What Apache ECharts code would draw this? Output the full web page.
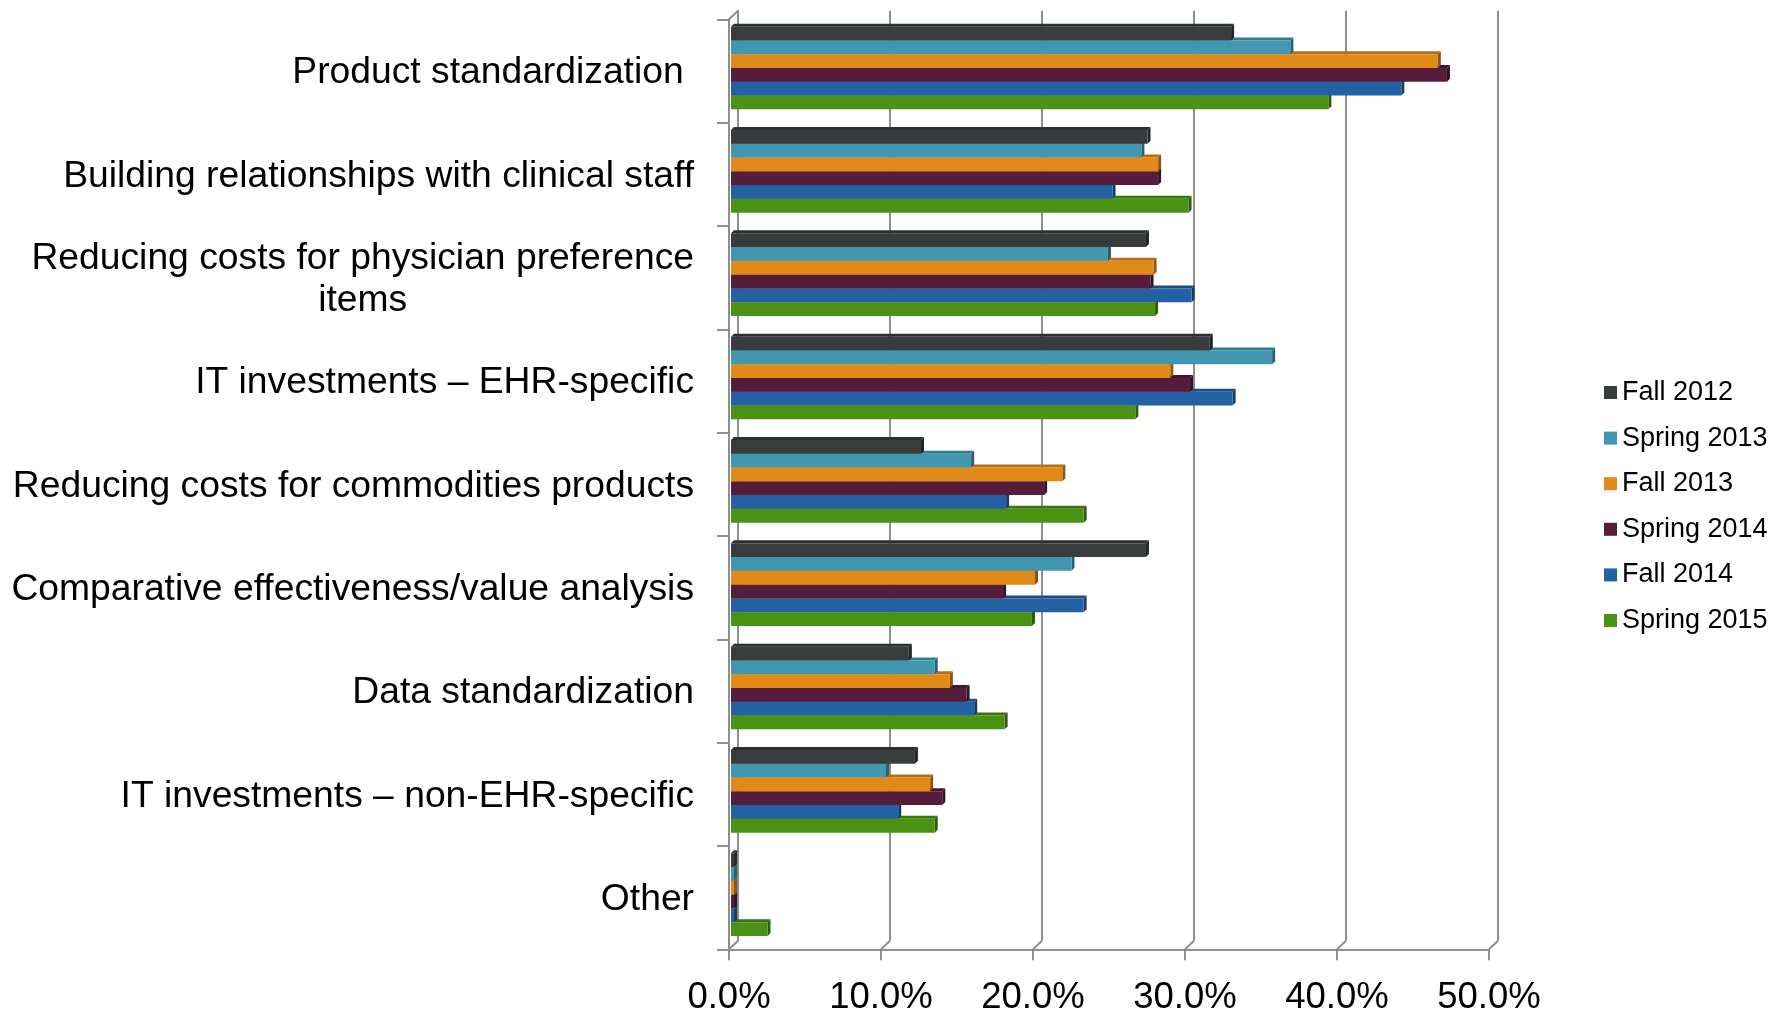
<!DOCTYPE html>
<html><head><meta charset="utf-8">
<script src="https://cdn.jsdelivr.net/npm/echarts@6/dist/echarts.min.js"></script>
<style>html,body{margin:0;padding:0;background:#fff}#c{width:1787px;height:1010px}</style>
</head><body><div id="c"></div>
<script>
const categories = ['Product standardization ', 'Building relationships with clinical staff', 'Reducing costs for physician preference\nitems', 'IT investments \u2013 EHR-specific', 'Reducing costs for commodities products', 'Comparative effectiveness/value analysis', 'Data standardization', 'IT investments \u2013 non-EHR-specific', 'Other'];
const seriesNames = ['Fall 2012', 'Spring 2013', 'Fall 2013', 'Spring 2014', 'Fall 2014', 'Spring 2015'];
const fall2012   = [32.9, 27.4, 27.3, 31.5, 12.5, 27.3, 11.7, 12.1, 0.2];
const spring2013 = [36.8, 27.0, 24.8, 35.6, 15.8, 22.4, 13.4, 10.2, 0.2];
const fall2013   = [46.5, 28.1, 27.8, 28.9, 21.8, 20.0, 14.4, 13.1, 0.2];
const spring2014 = [47.1, 28.1, 27.6, 30.2, 20.6, 17.9, 15.5, 13.9, 0.2];
const fall2014   = [44.1, 25.1, 30.3, 33.0, 18.1, 23.2, 16.0, 11.0, 0.2];
const spring2015 = [39.3, 30.1, 27.9, 26.6, 23.2, 19.8, 18.0, 13.4, 2.4];
const xTickValues = [0, 10, 20, 30, 40, 50];
const xTickLabels = ['0.0%', '10.0%', '20.0%', '30.0%', '40.0%', '50.0%'];

const seriesValues = [fall2012, spring2013, fall2013, spring2014, fall2014, spring2015];
const colors = ['#383c3d', '#4197b0', '#e28a18', '#561c3b', '#2461a4', '#4a9213'];
const FONT = '"Liberation Sans", Arial, sans-serif';
const GRID_COLOR = '#8e8e8e';
const DEPTH = 3;

function shade(hex, f) {
  const n = parseInt(hex.slice(1), 16);
  const r = Math.round(((n >> 16) & 255) * f), g = Math.round(((n >> 8) & 255) * f), b = Math.round((n & 255) * f);
  return 'rgb(' + r + ',' + g + ',' + b + ')';
}

function barRenderer(i) {
  return function (params, api) {
    const cat = api.value(0), v = api.value(1);
    const bandH = api.size([0, 1])[1];
    const barH = bandH * 0.8 / 6;
    const c = api.coord([0, cat]);
    const e = api.coord([v, cat]);
    const top = c[1] - 3 * barH + i * barH;
    const x0 = c[0], x1 = e[0], d = DEPTH;
    const col = colors[i];
    return {
      type: 'group',
      children: [
        { type: 'polygon', shape: { points: [[x0, top], [x1, top], [x1 + d, top - d], [x0 + d, top - d]] }, style: { fill: shade(col, 0.8) } },
        { type: 'polygon', shape: { points: [[x1, top], [x1 + d, top - d], [x1 + d, top + barH - d], [x1, top + barH]] }, style: { fill: shade(col, 0.62) } },
        { type: 'rect', shape: { x: x0, y: top, width: Math.max(0, x1 - x0), height: barH }, style: { fill: col } }
      ]
    };
  };
}

const series = seriesNames.map((name, i) => ({
  name: name,
  type: 'custom',
  xAxisIndex: 0, yAxisIndex: 0,
  z: 20 - i,
  itemStyle: { color: colors[i] },
  encode: { x: 1, y: 0 },
  renderItem: barRenderer(i),
  data: seriesValues[i].map((v, k) => [k, v])
}));

// floor / wall connector lines of the 3D frame
series.push({
  type: 'custom',
  xAxisIndex: 2, yAxisIndex: 2,
  silent: true,
  z: 1,
  encode: { x: 0 },
  data: xTickValues.map(v => [v]),
  renderItem: function (params, api) {
    const cs = params.coordSys;
    const x = api.coord([api.value(0), 0])[0];
    const bottom = cs.y + cs.height;
    const children = [{ type: 'line', shape: { x1: x, y1: bottom, x2: x + 9, y2: bottom - 8.5 }, style: { stroke: GRID_COLOR, lineWidth: 2 } }];
    if (params.dataIndex === 0) {
      children.push({ type: 'line', shape: { x1: cs.x, y1: cs.y, x2: cs.x + 9, y2: cs.y - 8.5 }, style: { stroke: GRID_COLOR, lineWidth: 2 } });
    }
    return { type: 'group', children: children };
  }
});

const chart = echarts.init(document.getElementById('c'));
chart.setOption({
  animation: false,
  color: colors,
  grid: [
    { left: 731, top: 16.3, width: 760, height: 930, outerBoundsMode: 'none', containLabel: false },
    { left: 738, top: 10.8, width: 760, height: 930, outerBoundsMode: 'none', containLabel: false },
    { left: 729, top: 19.3, width: 760, height: 930, outerBoundsMode: 'none', containLabel: false }
  ],
  xAxis: [
    { gridIndex: 0, type: 'value', min: 0, max: 50, interval: 10, show: false },
    { gridIndex: 1, type: 'value', min: 0, max: 50, interval: 10,
      axisLine: { show: false }, axisTick: { show: false }, axisLabel: { show: false },
      splitLine: { show: true, lineStyle: { color: GRID_COLOR, width: 2 } } },
    { gridIndex: 2, type: 'value', min: 0, max: 50, interval: 10, position: 'bottom',
      axisLine: { show: true, lineStyle: { color: GRID_COLOR, width: 2 } },
      axisTick: { show: true, length: 11, lineStyle: { color: GRID_COLOR, width: 2 } },
      splitLine: { show: false },
      axisLabel: { margin: 30.5, color: '#000', fontSize: 36.5, fontFamily: FONT,
        formatter: v => xTickLabels[xTickValues.indexOf(v)] } }
  ],
  yAxis: [
    { gridIndex: 0, type: 'category', data: categories, inverse: true, show: false },
    { gridIndex: 1, type: 'category', data: categories, inverse: true,
      axisLine: { show: true, lineStyle: { color: GRID_COLOR, width: 2 } },
      axisTick: { show: false }, axisLabel: { show: false }, splitLine: { show: false } },
    { gridIndex: 2, type: 'category', data: categories, inverse: true,
      axisLine: { show: true, lineStyle: { color: GRID_COLOR, width: 2 } },
      axisTick: { show: true, length: 12, lineStyle: { color: GRID_COLOR, width: 2 } },
      axisLabel: { margin: 35, color: '#000', fontSize: 37.25, fontFamily: FONT, lineHeight: 42,
        padding: [4, 0, 0, 0],
        formatter: v => v.split('\n').map(s => '{c|' + s + '}').join('\n'),
        rich: { c: { align: 'center', fontSize: 37.25, fontFamily: FONT, color: '#000', lineHeight: 42 } } } }
  ],
  legend: {
    data: seriesNames,
    orient: 'vertical',
    left: 1599, top: 374,
    itemWidth: 13, itemHeight: 13, itemGap: 18.6,
    icon: 'rect',
    textStyle: { fontSize: 27, fontFamily: FONT, color: '#000' }
  },
  series: series
});
</script></body></html>
